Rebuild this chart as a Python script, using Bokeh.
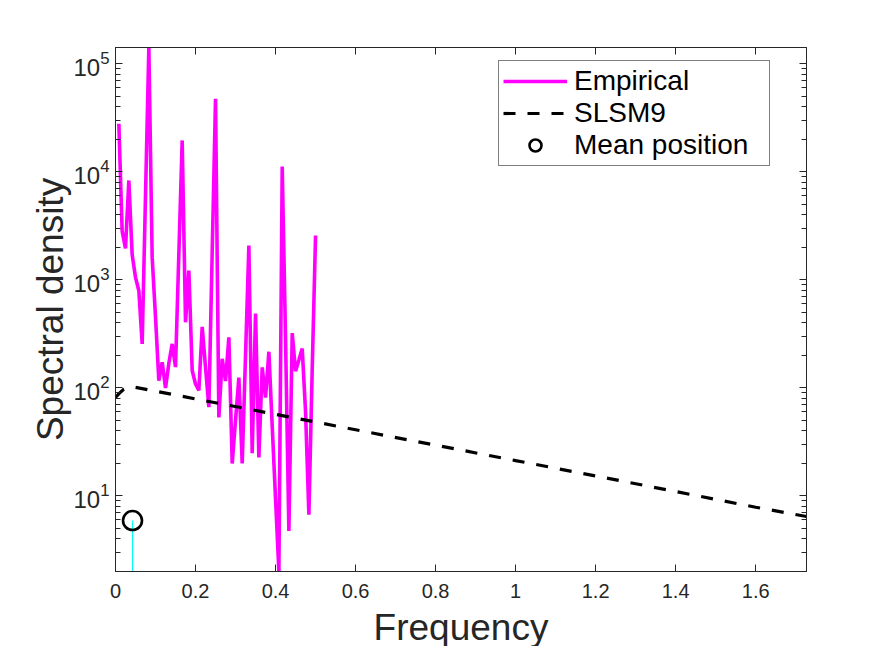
from bokeh.plotting import figure
from bokeh.models import Range1d, FixedTicker, LinearAxis, LogAxis, Legend, LegendItem
from bokeh.embed import file_html
from bokeh.resources import INLINE

# ---- data ----
freq = [k / 120 for k in range(1, 61)]
empirical = [27800, 2800, 1950, 8300, 1700, 1050, 790, 254, 6000, 141500,
             1600, 450, 116, 172, 99, 168, 254, 155, 1740, 19500,
             403, 1216, 144, 108, 94, 365, 154, 66, 1800, 47300,
             53, 185, 115, 292, 19.8, 50, 124, 19.8, 200, 2070,
             24.7, 485, 22.6, 154, 81, 215, 44, 9.3, 1.98, 11200,
             280, 4.7, 320, 142, 180, 230, 60, 6.65, 150, 2570]

slsm_freq = [0, 0.01, 0.02, 0.03, 0.04, 0.06, 0.1, 0.2, 0.4, 0.6, 0.8, 1.0, 1.2, 1.4, 1.6, 1.727]
slsm_dens = [81, 89, 96, 100, 102, 99, 92.7, 78.6, 56.6, 40.7, 29.3, 21.1, 15.2, 10.9, 7.8, 6.4]

mean_freq = [0.0425]
mean_dens = [5.87]

x_ticks = [0, 0.2, 0.4, 0.6, 0.8, 1.0, 1.2, 1.4, 1.6]
x_tick_labels = ["0", "0.2", "0.4", "0.6", "0.8", "1", "1.2", "1.4", "1.6"]
y_ticks = [10, 100, 1000, 10000, 100000]
y_minor = [m * 10 ** e for e in range(0, 6) for m in range(2, 10)]

x_lim = (0, 1.727)
y_lim = (1.98, 141500)

AX = "#262626"
FONT = "Liberation Sans"

p = figure(x_range=Range1d(*x_lim), y_range=Range1d(*y_lim), y_axis_type="log",
           frame_width=691, frame_height=524,
           min_border_left=115, min_border_right=78, min_border_top=47, min_border_bottom=75,
           output_backend="svg", toolbar_location=None,
           background_fill_color="white", border_fill_color="white")

p.xgrid.visible = False
p.ygrid.visible = False
p.outline_line_color = AX
p.outline_line_width = 1

r_emp = p.line(freq, empirical, line_color="#FF00FF", line_width=3.6)
r_slsm = p.line(slsm_freq, slsm_dens, line_color="black", line_width=3.2, line_dash="12 12")
p.segment(x0=mean_freq, y0=[y_lim[0]], x1=mean_freq, y1=mean_dens, line_color="#00FFFF", line_width=1.2)
r_mean = p.scatter(mean_freq, mean_dens, marker="circle", size=19, fill_color=None,
                   line_color="black", line_width=2.6)

xt = FixedTicker(ticks=x_ticks)
yt = FixedTicker(ticks=y_ticks, minor_ticks=y_minor)

def style(ax, fs="20px"):
    ax.axis_line_color = AX
    ax.axis_line_width = 1
    ax.major_tick_line_color = AX
    ax.minor_tick_line_color = AX
    ax.major_tick_in = 7
    ax.major_tick_out = 0
    ax.minor_tick_in = 5
    ax.minor_tick_out = 0
    ax.major_label_text_color = AX
    ax.major_label_text_font = FONT
    ax.major_label_text_font_size = fs
    ax.axis_label_text_color = AX
    ax.axis_label_text_font = FONT
    ax.axis_label_text_font_size = "37px"
    ax.axis_label_text_font_style = "normal"

xa = p.xaxis[0]
style(xa)
xa.ticker = xt
xa.major_label_overrides = {t: s for t, s in zip(x_ticks, x_tick_labels)}
xa.minor_tick_line_color = None
xa.major_label_standoff = 12
xa.axis_label = "Frequency"
xa.axis_label_standoff = 6

ya = p.yaxis[0]
style(ya, "24px")
ya.ticker = yt
ya.major_label_standoff = 6
ya.axis_label = "Spectral density"
ya.axis_label_standoff = -1

top = LinearAxis(ticker=xt)
style(top)
top.minor_tick_line_color = None
top.major_label_text_alpha = 0
p.add_layout(top, "above")

right = LogAxis(ticker=yt)
style(right)
right.major_label_text_alpha = 0
p.add_layout(right, "right")

legend = Legend(items=[LegendItem(label="Empirical", renderers=[r_emp]),
                       LegendItem(label="SLSM9", renderers=[r_slsm]),
                       LegendItem(label="Mean position", renderers=[r_mean])],
                location=(383, 405))
legend.label_text_font = FONT
legend.label_text_font_size = "28px"
legend.label_text_color = "black"
legend.border_line_color = "black"
legend.border_line_width = 1
legend.background_fill_alpha = 1
legend.glyph_width = 64
legend.glyph_height = 30
legend.label_height = 30
legend.label_width = 191
legend.label_standoff = 7
legend.padding = 4
legend.spacing = 0
legend.margin = 0
p.add_layout(legend, "center")

open("out.html", "w").write(file_html(p, INLINE))
